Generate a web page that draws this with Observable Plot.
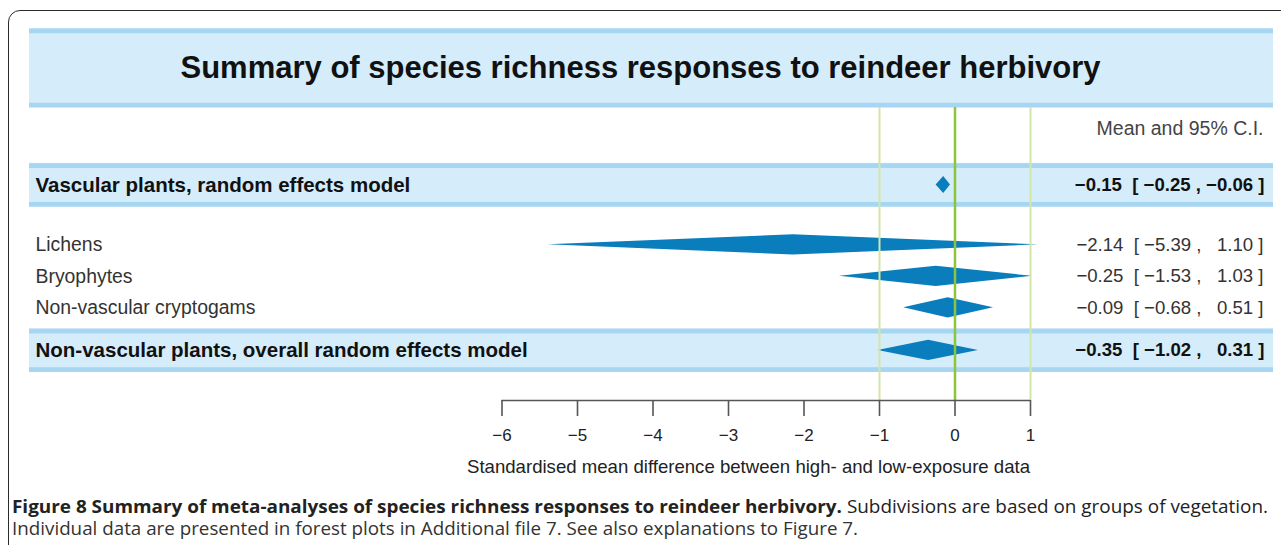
<!DOCTYPE html>
<html><head><meta charset="utf-8">
<script src="https://cdn.jsdelivr.net/npm/d3@7"></script>
<script src="https://cdn.jsdelivr.net/npm/@observablehq/plot@0.6"></script>
<style>
body{margin:0;background:#fff;font-family:"Liberation Sans",Arial,sans-serif;}
#wrap{position:relative;width:1281px;height:545px;overflow:hidden;}
#frame{position:absolute;left:8px;top:10px;width:1400px;height:700px;border:1.6px solid #2a2a2a;border-radius:12px;box-sizing:border-box;}
#chart{position:absolute;left:0;top:0;}
#cap{position:absolute;left:0;top:488px;}
</style></head><body>
<div id="wrap"><div id="frame"></div><div id="chart"></div><svg id="cap" width="1281" height="57"></svg></div>
<script>
// ---- data ----
const rows = ["Vascular plants, random effects model", "Lichens", "Bryophytes", "Non-vascular cryptogams", "Non-vascular plants, overall random effects model"];
const means = [-0.15, -2.14, -0.25, -0.09, -0.35];
const lows  = [-0.25, -5.39, -1.53, -0.68, -1.02];
const highs = [-0.06, 1.10, 1.03, 0.51, 0.31];
const isSummary = [true, false, false, false, true];
const xTicks = [-6, -5, -4, -3, -2, -1, 0, 1];
const refLines = [-1, 0, 1];
const titleText = "Summary of species richness responses to reindeer herbivory";
const headerText = "Mean and 95% C.I.";
const xLabelText = "Standardised mean difference between high- and low-exposure data";
const captionBold = "Figure 8 Summary of meta-analyses of species richness responses to reindeer herbivory.";
const captionRest = " Subdivisions are based on groups of vegetation.";
const captionLine2 = "Individual data are presented in forest plots in Additional file 7. See also explanations to Figure 7.";

// ---- layout (not data) ----
const W = 1281, H = 488;
const PX0 = 954.5, PXU = 75.5;         // pixel of x=0, pixels per unit
const bandL = 29, bandR = 1273;
const xDomain = [(bandL - PX0) / PXU, (bandR - PX0) / PXU];
const U = 31.5, Y0 = 184.5, axisPx = 400;
const py = p => (p - Y0) / U;
const yDomain = [py(0), py(axisPx)];
const rowPos = [0, 1.9, 2.9, 3.9, 5.25];
const titleBand = [py(28), py(107)];
const stripe = 2.4 / U;
const sumHalf = 0.69;

const sgn = v => v < 0 ? "\u2212" : "";
const table = rows.map((label, i) => ({
  label, mean: means[i], lo: lows[i], hi: highs[i], summary: isSummary[i], y: rowPos[i],
  txt: sgn(means[i]) + Math.abs(means[i]).toFixed(2) + "  [ " + sgn(lows[i]) + Math.abs(lows[i]).toFixed(2) +
       " , " + (highs[i] < 0 ? "\u2212" : "\u2007") + Math.abs(highs[i]).toFixed(2) + " ]"
}));

const diamonds = table.flatMap(d => {
  const h = Math.min(0.32, (d.hi - d.lo) * PXU * 0.6 / U);
  return [
    {label: d.label, x: d.lo, y1: d.y, y2: d.y},
    {label: d.label, x: d.mean, y1: d.y - h, y2: d.y + h},
    {label: d.label, x: d.hi, y1: d.y, y2: d.y}
  ];
});
const bands = [{y1: titleBand[0], y2: titleBand[1]}].concat(
  table.filter(d => d.summary).map(d => ({y1: d.y - sumHalf, y2: d.y + sumHalf})));

const bandFill = "#d5ecfa", bandStripe = "#a6d6f1", blue = "#0a7dbd";

const chart = Plot.plot({
  width: W, height: H,
  marginLeft: bandL, marginRight: W - bandR, marginTop: 0, marginBottom: H - axisPx,
  x: {domain: xDomain},
  y: {domain: yDomain, range: [0, axisPx], axis: null},
  style: {fontFamily: "'Liberation Sans', Arial, sans-serif", background: "transparent"},
  marks: [
    Plot.rect(bands, {y1: "y1", y2: "y2", fill: bandFill}),
    Plot.ruleY(bands, {y: d => d.y1 + stripe, stroke: bandStripe, strokeWidth: 4.8}),
    Plot.ruleY(bands, {y: d => d.y2 - stripe, stroke: bandStripe, strokeWidth: 4.8}),
    Plot.area(diamonds, {x1: "x", y1: "y1", y2: "y2", z: "label", fill: blue}),
    Plot.ruleX(refLines.filter(d => d !== 0), {x: d => d, y1: titleBand[1], y2: yDomain[1], stroke: "#d3e6a6", strokeWidth: 2}),
    Plot.ruleX(refLines.filter(d => d === 0), {x: d => d, y1: titleBand[1], y2: yDomain[1], stroke: "#8cc43c", strokeWidth: 2.5}),
    Plot.ruleY([yDomain[1]], {x1: d3.min(xTicks), x2: d3.max(xTicks), stroke: "#555", strokeWidth: 1.6}),
    Plot.axisX({ticks: xTicks, tickSize: 16, tickPadding: 12, fontSize: 17, label: null, stroke: "#555", strokeWidth: 1.6, fill: "#222",
      tickFormat: d => d < 0 ? "\u2212" + (-d) : String(d)}),
    Plot.text([xLabelText], {text: d => d, x: -2.735, y: py(467), fontSize: 18.6, fill: "#222"}),
    Plot.text([titleText], {text: d => d, y: (titleBand[0] + titleBand[1]) / 2, frameAnchor: "middle", dx: -11, fontSize: 31, fontWeight: "bold", fill: "#111"}),
    Plot.text([headerText], {text: d => d, y: py(128), frameAnchor: "right", textAnchor: "end", dx: -10, fontSize: 19.5, fill: "#444"}),
    Plot.text(table.filter(d => d.summary), {y: "y", text: "label", frameAnchor: "left", textAnchor: "start", dx: 6, fontSize: 20.5, fontWeight: "bold", fill: "#111"}),
    Plot.text(table.filter(d => !d.summary), {y: "y", text: "label", frameAnchor: "left", textAnchor: "start", dx: 6, fontSize: 19.4, fill: "#333"}),
    Plot.text(table.filter(d => d.summary), {y: "y", text: "txt", frameAnchor: "right", textAnchor: "end", dx: -9, fontSize: 18.6, fontWeight: "bold", fill: "#111"}),
    Plot.text(table.filter(d => !d.summary), {y: "y", text: "txt", frameAnchor: "right", textAnchor: "end", dx: -10, fontSize: 18.6, fill: "#333"})
  ]
});
document.getElementById("chart").appendChild(chart);

// caption
const cap = d3.select("#cap");
const t1 = cap.append("text").attr("x", 12).attr("y", 25).attr("font-family", "'Open Sans', sans-serif").attr("font-size", 17.5).attr("fill", "#222")
  .attr("textLength", 1256).attr("lengthAdjust", "spacingAndGlyphs");
t1.append("tspan").attr("font-weight", "bold").text(captionBold);
t1.append("tspan").text(captionRest);
cap.append("text").attr("x", 12).attr("y", 47).attr("font-family", "'Open Sans', sans-serif").attr("font-size", 17.5).attr("fill", "#333")
  .attr("textLength", 846).attr("lengthAdjust", "spacingAndGlyphs").text(captionLine2);
</script>
</body></html>
